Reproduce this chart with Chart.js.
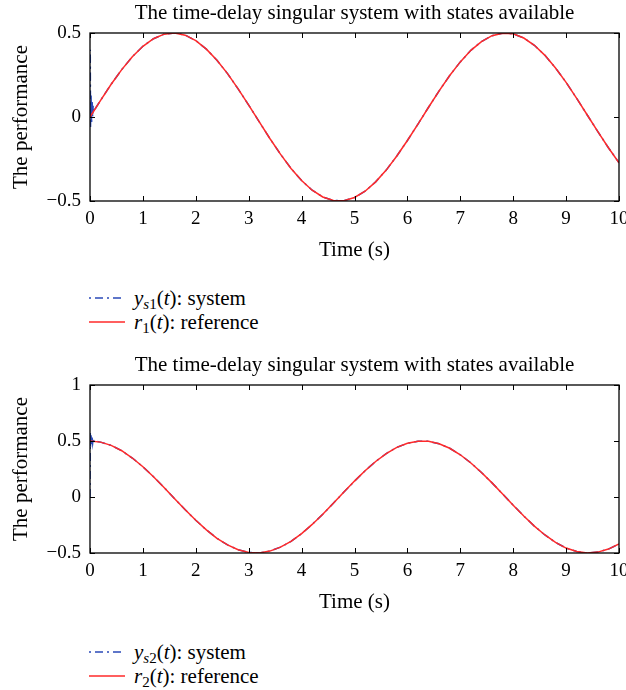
<!DOCTYPE html>
<html>
<head>
<meta charset="utf-8">
<script src="https://cdn.jsdelivr.net/npm/chart.js@4.4.0/dist/chart.umd.min.js"></script>
<style>
  body { margin: 0; background: #fff; width: 626px; height: 690px; position: relative; overflow: hidden;
         font-family: "Liberation Serif", "DejaVu Serif", serif; color: #000; }
  canvas { position: absolute; left: 0; }
  .row { position: absolute; left: 89px; height: 22px; line-height: 22px; font-size: 21px; white-space: nowrap; }
  .row svg { position: absolute; left: 0; top: 6px; }
  .row .txt { position: absolute; left: 45px; top: 0; }
  sub { font-size: 15px; vertical-align: -4px; line-height: 0; }
</style>
</head>
<body>
<canvas id="chart1" width="626" height="265" style="top:0"></canvas>
<div class="row" style="top:287px">
  <svg width="36" height="10"><line x1="0" y1="5" x2="36" y2="5" stroke="#2a4ab8" stroke-width="1.5" stroke-dasharray="2 4 8 4"/></svg>
  <span class="txt"><i>y</i><sub><i>s</i>1</sub>(<i>t</i>): system</span>
</div>
<div class="row" style="top:311px">
  <svg width="36" height="10"><line x1="0" y1="5" x2="36" y2="5" stroke="#ff2a2a" stroke-width="1.5"/></svg>
  <span class="txt"><i>r</i><sub>1</sub>(<i>t</i>): reference</span>
</div>
<canvas id="chart2" width="626" height="265" style="top:352px"></canvas>
<div class="row" style="top:641px">
  <svg width="36" height="10"><line x1="0" y1="5" x2="36" y2="5" stroke="#2a4ab8" stroke-width="1.5" stroke-dasharray="2 4 8 4"/></svg>
  <span class="txt"><i>y</i><sub><i>s</i>2</sub>(<i>t</i>): system</span>
</div>
<div class="row" style="top:665px">
  <svg width="36" height="10"><line x1="0" y1="5" x2="36" y2="5" stroke="#ff2a2a" stroke-width="1.5"/></svg>
  <span class="txt"><i>r</i><sub>2</sub>(<i>t</i>): reference</span>
</div>
<script>
// values, every 0.2 s
var time = [0, 0.2, 0.4, 0.6, 0.8, 1.0, 1.2, 1.4, 1.6, 1.8, 2.0, 2.2, 2.4, 2.6, 2.8, 3.0, 3.2, 3.4, 3.6, 3.8,
  4.0, 4.2, 4.4, 4.6, 4.8, 5.0, 5.2, 5.4, 5.6, 5.8, 6.0, 6.2, 6.4, 6.6, 6.8, 7.0, 7.2, 7.4, 7.6, 7.8,
  8.0, 8.2, 8.4, 8.6, 8.8, 9.0, 9.2, 9.4, 9.6, 9.8, 10.0];
var ref1 = [0, 0.099, 0.195, 0.282, 0.359, 0.421, 0.466, 0.493, 0.500, 0.487, 0.455, 0.404, 0.338, 0.258, 0.167,
  0.071, -0.029, -0.128, -0.221, -0.306, -0.378, -0.436, -0.476, -0.497, -0.498, -0.479, -0.442, -0.386, -0.316,
  -0.232, -0.140, -0.042, 0.058, 0.156, 0.247, 0.328, 0.397, 0.449, 0.484, 0.499, 0.495, 0.470, 0.427, 0.367,
  0.292, 0.206, 0.111, 0.012, -0.087, -0.183, -0.272];
var ref2 = [0.500, 0.490, 0.461, 0.413, 0.348, 0.270, 0.181, 0.085, -0.015, -0.114, -0.208, -0.294, -0.369, -0.428,
  -0.471, -0.495, -0.499, -0.483, -0.448, -0.396, -0.327, -0.245, -0.154, -0.056, 0.044, 0.142, 0.234, 0.317,
  0.388, 0.443, 0.480, 0.498, 0.497, 0.475, 0.435, 0.377, 0.304, 0.219, 0.126, 0.027, -0.073, -0.170, -0.260,
  -0.339, -0.406, -0.456, -0.487, -0.500, -0.492, -0.465, -0.420];

// start-up transient of the system outputs (first 0.1 s)
var startTime = [0, 0.005, 0.01, 0.02, 0.03, 0.04, 0.05, 0.06, 0.08, 0.1];
var start1 = [0, 0.40, -0.06, 0.14, -0.04, 0.10, 0.0, 0.07, 0.03, 0.05];
var start2 = [0, 0.58, 0.45, 0.55, 0.46, 0.53, 0.48, 0.52, 0.49, 0.50];

var xTicks = [0, 1, 2, 3, 4, 5, 6, 7, 8, 9, 10];
var yTicks1 = [-0.5, 0, 0.5];
var yTicks2 = [-0.5, 0, 0.5, 1];

var titleText = 'The time-delay singular system with states available';
var red = '#ff2a2a';
var blue = '#2a4ab8';
var fontFamily = '"Liberation Serif", "DejaVu Serif", serif';

function toPoints(xs, ys) {
    return xs.map(function(x, i) { return {x: x, y: ys[i]}; });
}

function fmt(v) {
    return v < 0 ? '\u2212' + Math.abs(v) : String(v);
}

// box round the plot and ticks pointing inwards
var framePlugin = {
    id: 'frame',
    afterDraw: function(chart) {
        var ctx = chart.ctx, a = chart.chartArea;
        var xs = chart.scales.x, ys = chart.scales.y;
        ctx.save();
        ctx.strokeStyle = '#000';
        ctx.lineWidth = 1.3;
        ctx.strokeRect(a.left, a.top, a.right - a.left, a.bottom - a.top);
        ctx.lineWidth = 1;
        ctx.beginPath();
        xs.ticks.forEach(function(t) {
            var px = Math.round(xs.getPixelForValue(t.value)) + 0.5;
            ctx.moveTo(px, a.bottom); ctx.lineTo(px, a.bottom - 5);
            ctx.moveTo(px, a.top); ctx.lineTo(px, a.top + 5);
        });
        ys.ticks.forEach(function(t) {
            var py = Math.round(ys.getPixelForValue(t.value)) + 0.5;
            ctx.moveTo(a.left, py); ctx.lineTo(a.left + 5, py);
            ctx.moveTo(a.right, py); ctx.lineTo(a.right - 5, py);
        });
        ctx.stroke();
        ctx.restore();
    }
};

function makeChart(id, refData, startData, yMin, yMax, yTicks) {
    var sysPoints = toPoints(startTime, startData).concat(toPoints(time.slice(1), refData.slice(1)));
    var font = {family: fontFamily, size: 21, weight: 'normal'};
    var tickFont = {family: fontFamily, size: 19, weight: 'normal'};
    return new Chart(document.getElementById(id).getContext('2d'), {
        type: 'line',
        data: {
            datasets: [{
                label: 'reference',
                data: toPoints(time, refData),
                borderColor: red,
                borderWidth: 1.5,
                pointRadius: 0,
                tension: 0
            }, {
                label: 'system',
                data: sysPoints,
                borderColor: blue,
                borderWidth: 1.5,
                borderDash: [8, 4, 2, 4],
                pointRadius: 0,
                tension: 0
            }]
        },
        options: {
            responsive: false,
            animation: false,
            events: [],
            layout: {padding: {left: 0, right: 7, top: 0, bottom: 0}},
            plugins: {
                legend: {display: false},
                tooltip: {enabled: false},
                title: {
                    display: true,
                    text: titleText,
                    fullSize: false,
                    color: '#000',
                    font: font,
                    padding: {top: 1, bottom: 6.8}
                }
            },
            scales: {
                x: {
                    type: 'linear',
                    min: 0,
                    max: 10,
                    grid: {display: false, drawTicks: false},
                    border: {display: false},
                    afterBuildTicks: function(s) {
                        s.ticks = xTicks.map(function(v) { return {value: v}; });
                    },
                    afterFit: function(s) {
                        s.height = 64;
                        s.paddingLeft = 0;
                        s.paddingRight = 0;
                    },
                    ticks: {color: '#000', font: tickFont, padding: 7, maxRotation: 0, autoSkip: false},
                    title: {display: true, text: 'Time (s)', color: '#000', font: font, padding: {top: 2, bottom: 2}}
                },
                y: {
                    type: 'linear',
                    min: yMin,
                    max: yMax,
                    grid: {display: false, drawTicks: false},
                    border: {display: false},
                    afterBuildTicks: function(s) {
                        s.ticks = yTicks.map(function(v) { return {value: v}; });
                    },
                    afterFit: function(s) {
                        s.width = 90;
                        s.paddingTop = 0;
                        s.paddingBottom = 0;
                    },
                    ticks: {color: '#000', font: tickFont, padding: 9, callback: fmt, autoSkip: false},
                    title: {display: true, text: 'The performance', color: '#000', font: font, padding: {top: 9, bottom: 0}}
                }
            }
        },
        plugins: [framePlugin]
    });
}

makeChart('chart1', ref1, start1, -0.5, 0.5, yTicks1);
makeChart('chart2', ref2, start2, -0.5, 1, yTicks2);
</script>
</body>
</html>
